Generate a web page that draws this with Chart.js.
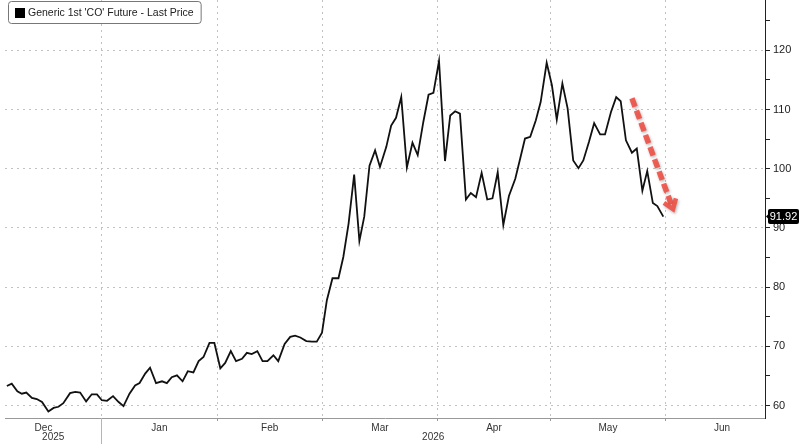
<!DOCTYPE html>
<html>
<head>
<meta charset="utf-8">
<script src="https://cdn.jsdelivr.net/npm/chart.js@4.4.1/dist/chart.umd.min.js"></script>
<style>
  html, body { margin: 0; padding: 0; background: #fff; }
  #wrap { position: relative; width: 800px; height: 444px; }
</style>
</head>
<body>
<div id="wrap"><canvas id="line-chart"></canvas></div>
<script>
// x values are days counted from 1 Dec 2025
const days = [
  5.7, 7.0, 8.5, 9.7, 10.9, 12.4, 13.7, 15.1, 16.8, 18.2,
  19.5, 20.8, 22.6, 24.0, 25.3, 26.9, 28.4, 29.8, 31.1, 32.5,
  34.1, 35.6, 36.9, 38.5, 40.0, 41.2, 42.7, 44.0, 45.6, 47.2,
  48.5, 49.8, 51.2, 52.7, 54.1, 55.6, 57.0, 58.3, 59.9, 61.2,
  62.8, 64.1, 65.6, 67.0, 68.6, 69.9, 71.2, 72.7, 74.1, 75.4,
  77.0, 78.3, 80.0, 81.5, 82.8, 84.2, 85.8, 87.3, 88.6, 90.0,
  91.3, 92.8, 94.4, 95.7, 97.1, 98.6, 100.0, 101.3, 102.7, 104.2,
  105.5, 107.2, 108.5, 109.8, 111.2, 112.7, 114.2, 115.6, 117.1, 118.5,
  119.8, 121.3, 122.9, 124.3, 125.6, 126.9, 128.5, 129.8, 131.2, 132.7,
  134.2, 135.6, 137.0, 138.5, 140.0, 141.7, 143.0, 144.3, 145.7, 147.2,
  148.5, 150.1, 151.5, 152.8, 154.3, 155.7, 157.2, 158.6, 159.9, 161.4,
  162.8, 164.4, 165.7, 167.3, 168.7, 169.9, 171.3, 172.9, 174.2, 175.7,
  177.0, 178.5, 179.7, 181.3
];
const prices = [
  63.3, 63.7, 62.4, 62.0, 62.2, 61.3, 61.1, 60.6, 59.0, 59.6,
  59.8, 60.4, 62.1, 62.3, 62.2, 60.7, 61.9, 61.9, 60.9, 60.8,
  61.6, 60.6, 59.9, 62.0, 63.4, 63.8, 65.4, 66.4, 63.8, 64.1,
  63.8, 64.8, 65.1, 64.1, 65.8, 65.6, 67.5, 68.2, 70.6, 70.6,
  66.3, 67.2, 69.2, 67.5, 67.9, 68.9, 68.7, 69.2, 67.5, 67.5,
  68.5, 67.5, 70.4, 71.6, 71.8, 71.5, 70.9, 70.8, 70.8, 72.3,
  77.8, 81.5, 81.5, 85.1, 90.7, 99.0, 87.8, 91.9, 100.5, 103.1,
  100.3, 103.7, 107.3, 108.6, 112.1, 100.2, 104.4, 102.3, 107.9, 112.5,
  112.8, 118.2, 101.3, 109.0, 109.7, 109.3, 94.8, 95.9, 95.2, 99.3,
  94.8, 95.0, 99.4, 90.5, 95.4, 98.3, 101.7, 105.1, 105.4, 108.2,
  111.3, 117.9, 114.1, 108.3, 114.4, 110.2, 101.4, 100.1, 101.4, 104.5,
  107.7, 105.8, 105.8, 109.6, 112.1, 111.4, 104.8, 102.7, 103.4, 96.3,
  99.6, 94.2, 93.7, 91.92
];
const seriesLabel = "Generic 1st 'CO' Future - Last Price";

const monthNames = ['Dec', 'Jan', 'Feb', 'Mar', 'Apr', 'May', 'Jun'];
const monthMids = [15.5, 46.5, 76, 105.5, 136, 166.5, 197];
const monthStarts = [31, 62, 90, 121, 151, 182];
const yearNames = ['2025', '2026'];
const yearStart = 31; // 1 Jan 2026

// red dashed trend arrow, [day, price]
const arrowFrom = [172.9, 111.9];
const arrowTo = [183.9, 93.2];

const xMin = 5.2, xMax = 208.5;
const yMin = 57.9, yMax = 128.5;

const FONT = "'Liberation Sans', Arial, sans-serif";

const extras = {
  id: 'extras',
  afterDatasetsDraw(chart) {
    const { ctx, scales: { x, y } } = chart;
    const x1 = x.getPixelForValue(arrowFrom[0]), y1 = y.getPixelForValue(arrowFrom[1]);
    const x2 = x.getPixelForValue(arrowTo[0]), y2 = y.getPixelForValue(arrowTo[1]);
    const ang = Math.atan2(y2 - y1, x2 - x1);
    ctx.save();
    ctx.strokeStyle = 'rgba(238, 82, 72, 0.92)';
    ctx.shadowColor = 'rgba(0,0,0,0.3)';
    ctx.shadowBlur = 3;
    ctx.shadowOffsetX = 1;
    ctx.shadowOffsetY = 1.5;
    ctx.lineWidth = 5.5;
    ctx.setLineDash([9, 4]);
    ctx.beginPath();
    ctx.moveTo(x1, y1);
    ctx.lineTo(x2 - Math.cos(ang) * 5, y2 - Math.sin(ang) * 5);
    ctx.stroke();
    ctx.setLineDash([]);
    ctx.lineWidth = 4.5;
    ctx.beginPath();
    ctx.moveTo(x2 - 11 * Math.cos(ang - 0.62), y2 - 11 * Math.sin(ang - 0.62));
    ctx.lineTo(x2, y2);
    ctx.lineTo(x2 - 11 * Math.cos(ang + 0.62), y2 - 11 * Math.sin(ang + 0.62));
    ctx.stroke();
    ctx.restore();
  },
  afterDraw(chart) {
    const { ctx, chartArea, scales: { x, y } } = chart;
    ctx.save();

    // year separator and year labels
    const xs = x.getPixelForValue(yearStart);
    ctx.strokeStyle = '#b5b5b5';
    ctx.lineWidth = 1;
    ctx.beginPath();
    ctx.moveTo(Math.round(xs) + 0.5, chartArea.bottom);
    ctx.lineTo(Math.round(xs) + 0.5, 444);
    ctx.stroke();
    ctx.fillStyle = '#333';
    ctx.font = '10px ' + FONT;
    ctx.textAlign = 'center';
    ctx.textBaseline = 'middle';
    ctx.fillText(yearNames[0], (chartArea.left + xs) / 2, 437);
    ctx.fillText(yearNames[1], (xs + chartArea.right) / 2, 437);

    // legend box
    ctx.font = '10.5px ' + FONT;
    const tw = ctx.measureText(seriesLabel).width;
    const bx = 8.5, by = 1.5, bw = tw + 27, bh = 22;
    ctx.fillStyle = '#fff';
    ctx.strokeStyle = '#777';
    ctx.beginPath();
    ctx.roundRect(bx, by, bw, bh, 3);
    ctx.fill();
    ctx.stroke();
    ctx.fillStyle = '#000';
    ctx.fillRect(15, 8, 10, 10);
    ctx.fillStyle = '#222';
    ctx.textAlign = 'left';
    ctx.textBaseline = 'middle';
    ctx.fillText(seriesLabel, 28, 13.5);

    // last price tag
    const last = prices[prices.length - 1];
    const ly = y.getPixelForValue(last);
    const r = chartArea.right;
    ctx.fillStyle = '#000';
    ctx.beginPath();
    ctx.moveTo(r + 1, ly);
    ctx.lineTo(r + 5, ly - 4);
    ctx.lineTo(r + 5, ly + 4);
    ctx.closePath();
    ctx.fill();
    ctx.beginPath();
    ctx.roundRect(r + 3, ly - 7.5, 31, 15, 2);
    ctx.fill();
    ctx.fillStyle = '#fff';
    ctx.font = '11px ' + FONT;
    ctx.textAlign = 'center';
    ctx.fillText(last.toFixed(2), r + 18.5, ly + 0.5);
    ctx.restore();
  }
};

function noPad(scale) {
  scale.paddingTop = 0;
  scale.paddingBottom = 0;
  scale.paddingLeft = 0;
  scale.paddingRight = 0;
}

const ctx = document.getElementById('line-chart').getContext('2d');
new Chart(ctx, {
  type: 'line',
  data: {
    datasets: [{
      label: seriesLabel,
      data: days.map((d, i) => ({ x: d, y: prices[i] })),
      borderColor: '#111',
      borderWidth: 1.8,
      pointRadius: 0,
      tension: 0,
      fill: false,
    }],
  },
  options: {
    animation: false,
    responsive: true,
    maintainAspectRatio: false,
    layout: { padding: { left: 5, top: 0, right: 0, bottom: 0 } },
    plugins: {
      legend: { display: false },
      tooltip: { enabled: false },
    },
    scales: {
      x: {
        type: 'linear',
        min: xMin,
        max: xMax,
        afterBuildTicks(scale) {
          scale.ticks = monthStarts.concat(monthMids)
            .sort((a, b) => a - b)
            .map(v => ({ value: v }));
        },
        afterFit(scale) { scale.height = 26; noPad(scale); },
        ticks: {
          autoSkip: false,
          maxRotation: 0,
          padding: 1,
          color: '#333',
          font: { family: FONT, size: 10 },
          callback(value) {
            const i = monthMids.indexOf(value);
            return i >= 0 ? monthNames[i] : '';
          },
        },
        grid: {
          color: c => (c.tick && monthStarts.includes(c.tick.value)) ? '#c2c2c2' : 'rgba(0,0,0,0)',
          tickColor: c => (c.tick && monthStarts.includes(c.tick.value)) ? '#999' : 'rgba(0,0,0,0)',
          tickLength: 3,
          lineWidth: 1,
        },
        border: { color: '#999', dash: [2, 4] },
      },
      y: {
        type: 'linear',
        position: 'right',
        min: yMin,
        max: yMax,
        afterFit(scale) { scale.width = 35; noPad(scale); },
        ticks: {
          stepSize: 5,
          includeBounds: false,
          autoSkip: false,
          padding: 3,
          color: '#222',
          font: { family: FONT, size: 11 },
          callback: v => (v % 10 === 0 ? v : ''),
        },
        grid: {
          color: c => (c.tick && c.tick.value % 10 === 0) ? '#c2c2c2' : 'rgba(0,0,0,0)',
          tickColor: '#222',
          tickLength: 5,
          lineWidth: 1,
        },
        border: { color: '#222', dash: [2, 4] },
      },
    },
  },
  plugins: [extras],
});
</script>
</body>
</html>
